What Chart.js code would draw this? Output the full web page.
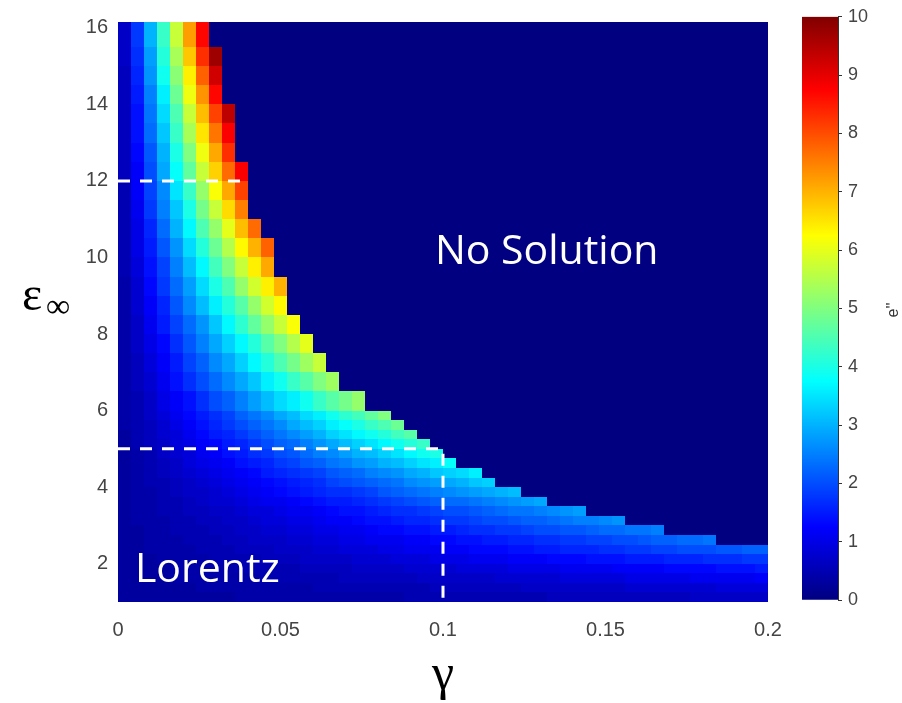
<!DOCTYPE html>
<html>
<head>
<meta charset="utf-8">
<script src="https://cdn.jsdelivr.net/npm/chart.js@4/dist/chart.umd.min.js"></script>
<style>
  html, body { margin: 0; padding: 0; background: #fff; }
  #wrap { position: relative; width: 902px; height: 703px; }
  #wrap canvas { position: absolute; left: 0; top: 0; }
</style>
</head>
<body>
<div id="wrap">
  <canvas id="mapChart" width="902" height="703"></canvas>
  <canvas id="barChart" width="902" height="703"></canvas>
</div>
<script>
const gammaTicks = [0, 0.05, 0.1, 0.15, 0.2];
const epsTicks = [2, 4, 6, 8, 10, 12, 14, 16];
const colorTicks = [0, 1, 2, 3, 4, 5, 6, 7, 8, 9, 10];

// gamma width of one column of the map
const gammaCell = 0.004;

// eps_inf row edges, bottom to top
const epsEdges = [1, 1.25, 1.5, 1.75, 2, 2.25, 2.5, 2.75, 3, 3.25, 3.5, 3.75, 4, 4.25, 4.5, 4.75,
  5, 5.25, 5.5, 5.75, 6, 6.5, 7, 7.5, 8, 8.5, 9, 9.5, 10, 10.5, 11, 11.5, 12, 12.5, 13, 13.5,
  14, 14.5, 15, 15.5, 16.15];

// e'' per row (bottom row first), column by column from gamma = 0.
// where a row stops there is no solution
const ePrime = [
  [0.3,0.3,0.3,0.3,0.3,0.3,0.3,0.3,0.3,0.4,0.4,0.4,0.4,0.4,0.4,0.4,0.4,0.4,0.4,0.4,0.4,0.4,0.5,0.5,0.5,0.5,0.5,0.5,0.5,0.5,0.5,0.5,0.5,0.6,0.6,0.6,0.6,0.6,0.6,0.6,0.6,0.6,0.6,0.6,0.7,0.7,0.7,0.7,0.7,0.7],
  [0.3,0.3,0.3,0.3,0.3,0.3,0.4,0.4,0.4,0.4,0.4,0.4,0.4,0.4,0.4,0.5,0.5,0.5,0.5,0.5,0.5,0.5,0.5,0.5,0.6,0.6,0.6,0.6,0.6,0.6,0.6,0.7,0.7,0.7,0.7,0.7,0.7,0.7,0.7,0.8,0.8,0.8,0.8,0.8,0.8,0.8,0.9,0.9,0.9,0.9],
  [0.3,0.3,0.3,0.3,0.4,0.4,0.4,0.4,0.4,0.4,0.4,0.5,0.5,0.5,0.5,0.5,0.5,0.6,0.6,0.6,0.6,0.6,0.6,0.7,0.7,0.7,0.7,0.7,0.7,0.8,0.8,0.8,0.8,0.8,0.9,0.9,0.9,0.9,0.9,1.0,1.0,1.0,1.0,1.0,1.1,1.1,1.1,1.1,1.1,1.2],
  [0.3,0.3,0.3,0.3,0.4,0.4,0.4,0.4,0.4,0.5,0.5,0.5,0.5,0.5,0.6,0.6,0.6,0.6,0.7,0.7,0.7,0.7,0.8,0.8,0.8,0.8,0.9,0.9,0.9,0.9,1.0,1.0,1.0,1.0,1.1,1.1,1.1,1.1,1.2,1.2,1.2,1.2,1.3,1.3,1.3,1.3,1.4,1.4,1.4,1.5],
  [0.3,0.3,0.3,0.4,0.4,0.4,0.4,0.5,0.5,0.5,0.5,0.6,0.6,0.6,0.7,0.7,0.7,0.7,0.8,0.8,0.8,0.9,0.9,0.9,1.0,1.0,1.0,1.1,1.1,1.1,1.2,1.2,1.2,1.3,1.3,1.3,1.4,1.4,1.4,1.5,1.5,1.5,1.6,1.6,1.6,1.7,1.7,1.7,1.8,1.8],
  [0.3,0.3,0.4,0.4,0.4,0.4,0.5,0.5,0.5,0.6,0.6,0.6,0.7,0.7,0.7,0.8,0.8,0.9,0.9,0.9,1.0,1.0,1.1,1.1,1.1,1.2,1.2,1.3,1.3,1.3,1.4,1.4,1.5,1.5,1.6,1.6,1.6,1.7,1.7,1.8,1.8,1.9,1.9,2.0,2.0,2.0,2.1,2.1,2.2,2.2],
  [0.3,0.3,0.4,0.4,0.4,0.5,0.5,0.5,0.6,0.6,0.7,0.7,0.7,0.8,0.8,0.9,0.9,1.0,1.0,1.1,1.1,1.1,1.2,1.2,1.3,1.3,1.4,1.4,1.5,1.5,1.6,1.6,1.7,1.7,1.8,1.8,1.9,1.9,2.0,2.0,2.1,2.2,2.2,2.3,2.3,2.4],
  [0.3,0.3,0.4,0.4,0.5,0.5,0.5,0.6,0.6,0.7,0.7,0.8,0.8,0.9,0.9,1.0,1.0,1.1,1.1,1.2,1.3,1.3,1.4,1.4,1.5,1.5,1.6,1.7,1.7,1.8,1.8,1.9,2.0,2.0,2.1,2.1,2.2,2.3,2.3,2.4,2.4,2.5],
  [0.3,0.4,0.4,0.4,0.5,0.5,0.6,0.6,0.7,0.7,0.8,0.9,0.9,1.0,1.0,1.1,1.2,1.2,1.3,1.4,1.4,1.5,1.6,1.6,1.7,1.8,1.8,1.9,2.0,2.0,2.1,2.2,2.2,2.3,2.4,2.5,2.5,2.6,2.7],
  [0.3,0.4,0.4,0.5,0.5,0.6,0.6,0.7,0.7,0.8,0.9,0.9,1.0,1.1,1.1,1.2,1.3,1.4,1.4,1.5,1.6,1.7,1.7,1.8,1.9,2.0,2.0,2.1,2.2,2.3,2.4,2.4,2.5,2.6,2.7,2.8],
  [0.3,0.4,0.4,0.5,0.5,0.6,0.7,0.8,0.8,0.9,1.0,1.1,1.1,1.2,1.3,1.4,1.5,1.5,1.6,1.7,1.8,1.9,2.0,2.1,2.2,2.3,2.3,2.4,2.5,2.6,2.7,2.8,2.9],
  [0.3,0.4,0.4,0.5,0.6,0.7,0.7,0.8,0.9,1.0,1.1,1.2,1.3,1.4,1.5,1.6,1.7,1.7,1.8,1.9,2.1,2.2,2.3,2.4,2.5,2.6,2.7,2.8,2.9,3.0,3.1],
  [0.3,0.4,0.5,0.5,0.6,0.7,0.8,0.9,1.0,1.1,1.2,1.3,1.4,1.5,1.6,1.7,1.9,2.0,2.1,2.2,2.3,2.4,2.6,2.7,2.8,2.9,3.0,3.2,3.3],
  [0.3,0.4,0.5,0.6,0.7,0.8,0.9,1.0,1.1,1.2,1.3,1.5,1.6,1.7,1.8,1.9,2.1,2.2,2.3,2.5,2.6,2.7,2.9,3.0,3.2,3.3,3.4,3.6],
  [0.3,0.4,0.5,0.6,0.7,0.9,1.0,1.1,1.2,1.4,1.5,1.6,1.8,1.9,2.1,2.2,2.4,2.5,2.7,2.8,3.0,3.1,3.3,3.5,3.6,3.8],
  [0.3,0.4,0.5,0.7,0.8,0.9,1.1,1.2,1.4,1.5,1.7,1.8,2.0,2.1,2.3,2.5,2.6,2.8,3.0,3.1,3.3,3.5,3.7,3.9,4.0],
  [0.3,0.5,0.6,0.7,0.9,1.0,1.2,1.3,1.5,1.6,1.8,2.0,2.2,2.3,2.5,2.7,2.9,3.1,3.3,3.5,3.7,3.9,4.1,4.3],
  [0.3,0.5,0.6,0.8,0.9,1.1,1.3,1.5,1.6,1.8,2.0,2.2,2.4,2.6,2.8,3.0,3.3,3.5,3.7,3.9,4.1,4.4,4.6],
  [0.4,0.5,0.6,0.8,1.0,1.2,1.4,1.6,1.8,2.0,2.2,2.4,2.6,2.9,3.1,3.3,3.6,3.8,4.0,4.3,4.5,4.8],
  [0.4,0.5,0.7,0.9,1.1,1.3,1.5,1.7,1.9,2.2,2.4,2.6,2.9,3.1,3.4,3.6,3.9,4.2,4.4,4.7,5.0],
  [0.4,0.5,0.7,1.0,1.2,1.4,1.7,2.0,2.2,2.5,2.8,3.1,3.4,3.6,3.9,4.3,4.6,4.9,5.2],
  [0.4,0.6,0.8,1.1,1.4,1.7,2.0,2.3,2.6,2.9,3.2,3.6,3.9,4.3,4.6,5.0,5.3],
  [0.4,0.6,0.9,1.2,1.5,1.9,2.2,2.6,2.9,3.3,3.7,4.1,4.5,4.9,5.3,5.7],
  [0.4,0.7,1.0,1.3,1.7,2.1,2.5,2.9,3.3,3.7,4.1,4.6,5.0,5.5,6.0],
  [0.4,0.7,1.1,1.5,1.9,2.3,2.7,3.2,3.7,4.2,4.7,5.2,5.7,6.2],
  [0.4,0.8,1.2,1.6,2.1,2.6,3.1,3.6,4.1,4.6,5.2,5.8,6.3],
  [0.4,0.8,1.3,1.8,2.3,2.8,3.4,4.0,4.5,5.2,5.8,6.4,7.0],
  [0.5,0.9,1.4,1.9,2.5,3.1,3.7,4.4,5.0,5.7,6.4,7.1],
  [0.5,1.0,1.5,2.1,2.7,3.4,4.1,4.8,5.5,6.3,7.0,7.8],
  [0.5,1.0,1.6,2.3,3.0,3.7,4.5,5.2,6.0,6.9,7.7],
  [0.5,1.1,1.8,2.5,3.2,4.0,4.9,5.7,6.6,7.5],
  [0.5,1.2,1.9,2.6,3.5,4.3,5.2,6.2,7.1,8.1],
  [0.6,1.2,2.0,2.9,3.8,4.7,5.7,6.7,7.7,8.8],
  [0.6,1.3,2.1,3.0,4.0,5.0,6.1,7.1,8.3],
  [0.6,1.4,2.3,3.2,4.3,5.4,6.5,7.6,8.8],
  [0.6,1.4,2.4,3.4,4.5,5.7,6.9,8.1,9.4],
  [0.6,1.5,2.5,3.6,4.8,6.1,7.3,8.7],
  [0.6,1.6,2.7,3.9,5.1,6.4,7.8,9.2],
  [0.7,1.7,2.8,4.1,5.4,6.8,8.3,9.7],
  [0.7,1.8,3.0,4.3,5.7,7.2,8.7]
];

// dashed guide lines
const guide12 = [{x: 0, y: 12}, {x: 0.038, y: 12}];
const guide5 = [{x: 0, y: 5}, {x: 0.1, y: 5}, {x: 0.1, y: 1}];

// matlab style jet colormap, 0..10
function jet(v) {
  const t = Math.min(Math.max(v / 10, 0), 1);
  const c = (d) => Math.round(255 * Math.min(Math.max(1.5 - Math.abs(4 * t - d), 0), 1));
  return 'rgb(' + c(3) + ',' + c(2) + ',' + c(1) + ')';
}

const tickFont = {family: '"Liberation Sans", Arial, sans-serif', size: 20};

const heatmap = {
  id: 'heatmap',
  beforeDatasetsDraw(chart) {
    const {ctx, chartArea: a, scales: {x, y}} = chart;
    ctx.save();
    ctx.beginPath();
    ctx.rect(a.left, a.top, a.width, a.height);
    ctx.clip();
    // no solution area
    ctx.fillStyle = jet(0);
    ctx.fillRect(a.left, a.top, a.width, a.height);
    ePrime.forEach((row, i) => {
      const top = Math.round(y.getPixelForValue(epsEdges[i + 1]));
      const bottom = Math.round(y.getPixelForValue(epsEdges[i]));
      row.forEach((v, j) => {
        const l = Math.round(x.getPixelForValue(j * gammaCell));
        const r = Math.round(x.getPixelForValue((j + 1) * gammaCell));
        ctx.fillStyle = jet(v);
        ctx.fillRect(l, top, r - l, bottom - top);
      });
    });
    ctx.restore();
  },
  afterDatasetsDraw(chart) {
    const {ctx, scales: {x, y}} = chart;
    ctx.save();
    ctx.fillStyle = '#fff';
    ctx.font = '41px "Open Sans", sans-serif';
    ctx.textAlign = 'left';
    ctx.textBaseline = 'alphabetic';
    ctx.fillText('No Solution', x.getPixelForValue(0.0975), y.getPixelForValue(9.82));
    ctx.fillText('Lorentz', x.getPixelForValue(0.0052), y.getPixelForValue(1.52));
    ctx.restore();
  },
  afterDraw(chart) {
    const {ctx, chartArea: a} = chart;
    ctx.save();
    ctx.fillStyle = '#000';
    ctx.textBaseline = 'alphabetic';
    ctx.textAlign = 'center';
    ctx.font = '50px "Liberation Serif", serif';
    ctx.fillText('γ', (a.left + a.right) / 2, 689);
    ctx.textAlign = 'left';
    ctx.font = '48px "Liberation Serif", serif';
    ctx.fillText('ε', 22, 310);
    ctx.font = '34px "Liberation Serif", serif';
    ctx.fillText('∞', 46, 317);
    ctx.restore();
  }
};

new Chart(document.getElementById('mapChart'), {
  type: 'scatter',
  data: {
    datasets: [
      {data: guide12, showLine: true, borderColor: '#fff', borderWidth: 3, borderDash: [12, 10], pointRadius: 0},
      {data: guide5, showLine: true, borderColor: '#fff', borderWidth: 3, borderDash: [12, 10], pointRadius: 0}
    ]
  },
  options: {
    responsive: false,
    animation: false,
    events: [],
    layout: {padding: {top: 15, left: 0, right: 134, bottom: 0}},
    plugins: {legend: {display: false}, tooltip: {enabled: false}},
    scales: {
      x: {
        type: 'linear', min: 0, max: 0.2,
        afterBuildTicks: (s) => { s.ticks = gammaTicks.map(v => ({value: v})); },
        afterFit: (s) => { s.height = 101; },
        grid: {display: false, drawTicks: false},
        border: {display: false},
        ticks: {font: tickFont, color: '#444', padding: 16, callback: (v) => String(v)}
      },
      y: {
        type: 'linear', min: 1, max: 16.15,
        afterBuildTicks: (s) => { s.ticks = epsTicks.map(v => ({value: v})); },
        afterFit: (s) => { s.width = 118; },
        grid: {display: false, drawTicks: false},
        border: {display: false},
        ticks: {font: tickFont, color: '#444', padding: 10, callback: (v) => String(v)}
      }
    }
  },
  plugins: [heatmap]
});

// colour bar
const barTitle = {
  id: 'barTitle',
  afterDraw(chart) {
    const {ctx} = chart;
    ctx.save();
    ctx.translate(894, 310);
    ctx.rotate(-Math.PI / 2);
    ctx.fillStyle = '#333';
    ctx.font = '16px "Liberation Sans", Arial, sans-serif';
    ctx.textAlign = 'center';
    ctx.textBaseline = 'middle';
    ctx.fillText("e''", 0, 0);
    ctx.restore();
  }
};

new Chart(document.getElementById('barChart'), {
  type: 'bar',
  data: {
    labels: [''],
    datasets: [{
      data: [colorTicks[colorTicks.length - 1]],
      borderWidth: 0,
      barPercentage: 1,
      categoryPercentage: 1,
      backgroundColor: (c) => {
        const {ctx, chartArea} = c.chart;
        if (!chartArea) return null;
        const g = ctx.createLinearGradient(0, chartArea.bottom, 0, chartArea.top);
        [0, 1.25, 3.75, 6.25, 8.75, 10].forEach(v => g.addColorStop(v / 10, jet(v)));
        return g;
      }
    }]
  },
  options: {
    responsive: false,
    animation: false,
    events: [],
    layout: {padding: {left: 802, top: 14, right: 0, bottom: 103}},
    plugins: {legend: {display: false}, tooltip: {enabled: false}},
    scales: {
      x: {display: false},
      y: {
        position: 'right', min: 0, max: 10,
        afterBuildTicks: (s) => { s.ticks = colorTicks.map(v => ({value: v})); },
        afterFit: (s) => { s.width = 64; },
        grid: {drawOnChartArea: false, tickLength: 4, color: '#333'},
        border: {color: '#333'},
        ticks: {font: {family: '"Liberation Sans", Arial, sans-serif', size: 18}, color: '#444', padding: 6}
      }
    }
  },
  plugins: [barTitle]
});
</script>
</body>
</html>
